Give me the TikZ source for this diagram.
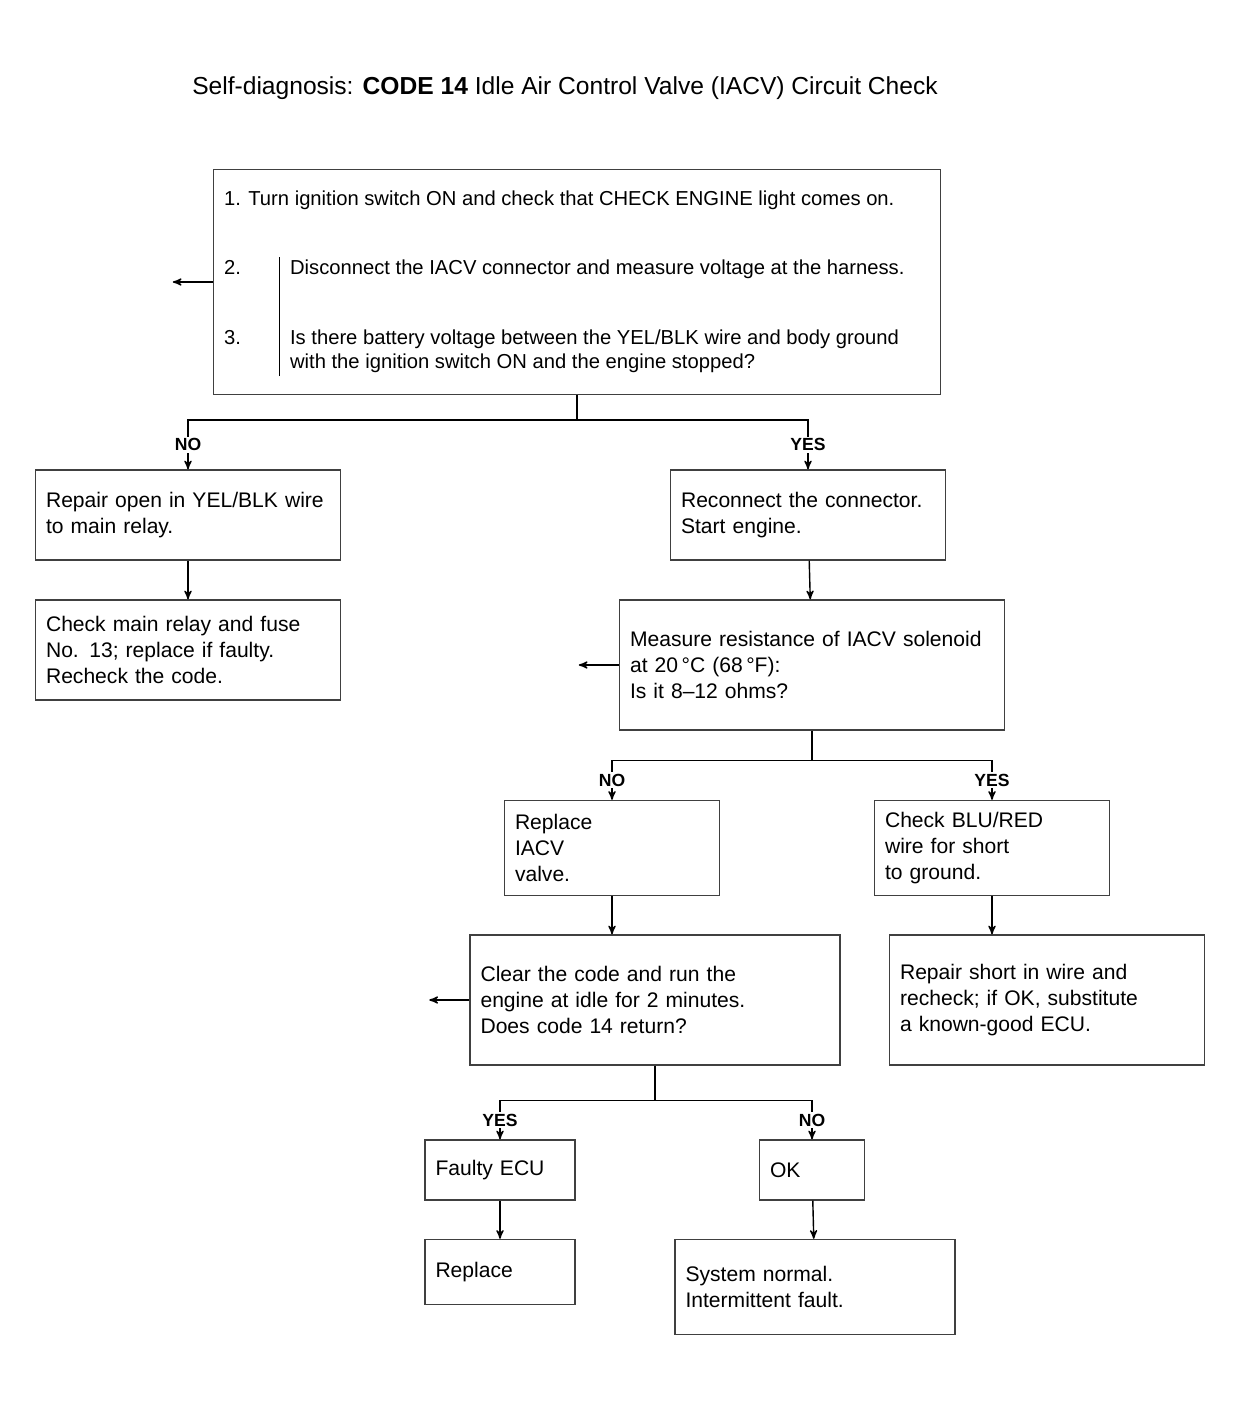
\documentclass[tikz,border=0pt]{standalone}
\usepackage{fontspec}
\setmainfont{Liberation Sans}
\usetikzlibrary{positioning,arrows}

\begin{document}
\begin{tikzpicture}[x=0.02cm,y=-0.02cm,->,>=stealth',thick,
  box/.style={draw=black!75,rectangle,align=left,inner sep=6pt,font=\fontsize{12}{15}\selectfont},
  bigbox/.style={draw=black!75,rectangle,inner sep=6pt,font=\fontsize{11.5}{14}\selectfont},
  ans/.style={fill=white,inner sep=1pt,font=\fontsize{10}{12}\selectfont\bfseries}]
   \useasboundingbox (0,0) rectangle (1243,1409);
   \node[font=\fontsize{14}{17}\selectfont] (title) at (565,88)
     {Self-diagnosis: \textbf{CODE 14} Idle Air Control Valve (IACV) Circuit Check};
   \node[bigbox,minimum width=14.5cm,minimum height=4.5cm] (start) at (577,282)
     {\begin{tabular}{@{}p{0.9cm}|p{12.8cm}@{}}
      \multicolumn{2}{@{}p{13.9cm}@{}}{1. Turn ignition switch ON and check that CHECK ENGINE light comes on.}\\[9mm]
      2. & Disconnect the IACV connector and measure voltage at the harness.\\[9mm]
      3. & Is there battery voltage between the YEL/BLK wire and body ground\newline with the ignition switch ON and the engine stopped?
     \end{tabular}};
   \node[box,text width=5.68cm,minimum height=1.8cm] (a1) at (188,515)
     {Repair open in YEL/BLK wire\\ to main relay.};
   \node[box,text width=5.68cm,minimum height=2.0cm] (a2) at (188,650)
     {Check main relay and fuse\\ No. 13; replace if faulty.\\ Recheck the code.};
   \node[box,text width=5.08cm,minimum height=1.8cm] (b1) at (808,515)
     {Reconnect the connector.\\ Start engine.};
   \node[box,text width=7.28cm,minimum height=2.6cm] (b2) at (812,665)
     {Measure resistance of IACV solenoid\\ at 20\,°C (68\,°F):\\ Is it 8--12 ohms?};
   \node[box,text width=3.88cm,minimum height=1.9cm] (c1) at (612,848)
     {Replace\\ IACV\\ valve.};
   \node[box,text width=4.28cm,minimum height=1.9cm] (d1) at (992,848)
     {Check BLU/RED\\ wire for short\\ to ground.};
   \node[box,text width=6.98cm,minimum height=2.6cm] (c2) at (655,1000)
     {Clear the code and run the\\ engine at idle for 2 minutes.\\ Does code 14 return?};
   \node[box,text width=5.88cm,minimum height=2.6cm] (d2) at (1047,1000)
     {Repair short in wire and\\ recheck; if OK, substitute\\ a known-good ECU.};
   \node[box,text width=2.58cm,minimum height=1.2cm] (e1) at (500,1170) {Faulty ECU};
   \node[box,text width=1.68cm,minimum height=1.2cm] (f1) at (812,1170) {OK};
   \node[box,text width=2.58cm,minimum height=1.3cm] (e2) at (500,1272) {Replace};
   \node[box,text width=5.18cm,minimum height=1.9cm] (f2) at (815,1287)
     {System normal.\\ Intermittent fault.};
   % branches
   \draw[-] (start.south) -- ++(0,25) coordinate (s1);
   \draw (s1) -| node[ans,pos=0.75] {NO} (a1.north);
   \draw (s1) -| node[ans,pos=0.75] {YES} (b1.north);
   \draw[-] (b2.south) -- ++(0,30) coordinate (s2);
   \draw (s2) -| node[ans,pos=0.75] {NO} (c1.north);
   \draw (s2) -| node[ans,pos=0.75] {YES} (d1.north);
   \draw[-] (c2.south) -- ++(0,35) coordinate (s3);
   \draw (s3) -| node[ans,pos=0.75] {YES} (e1.north);
   \draw (s3) -| node[ans,pos=0.75] {NO} (f1.north);
   \path[->]
    (a1) edge (a2)
    (b1) edge (b2)
    (e1) edge (e2)
    (f1) edge (f2);
   \draw (c1.south) -- (c1.south |- c2.north);
   \draw (d1.south) -- (d1.south |- d2.north);
   % return arrows
   \draw (start.west) -- ++(-40,0) coordinate (r1);
   \draw (b2.west) -- ++(-40,0) coordinate (r2);
   \draw (c2.west) -- ++(-40,0) coordinate (r3);
\end{tikzpicture}
\end{document}
